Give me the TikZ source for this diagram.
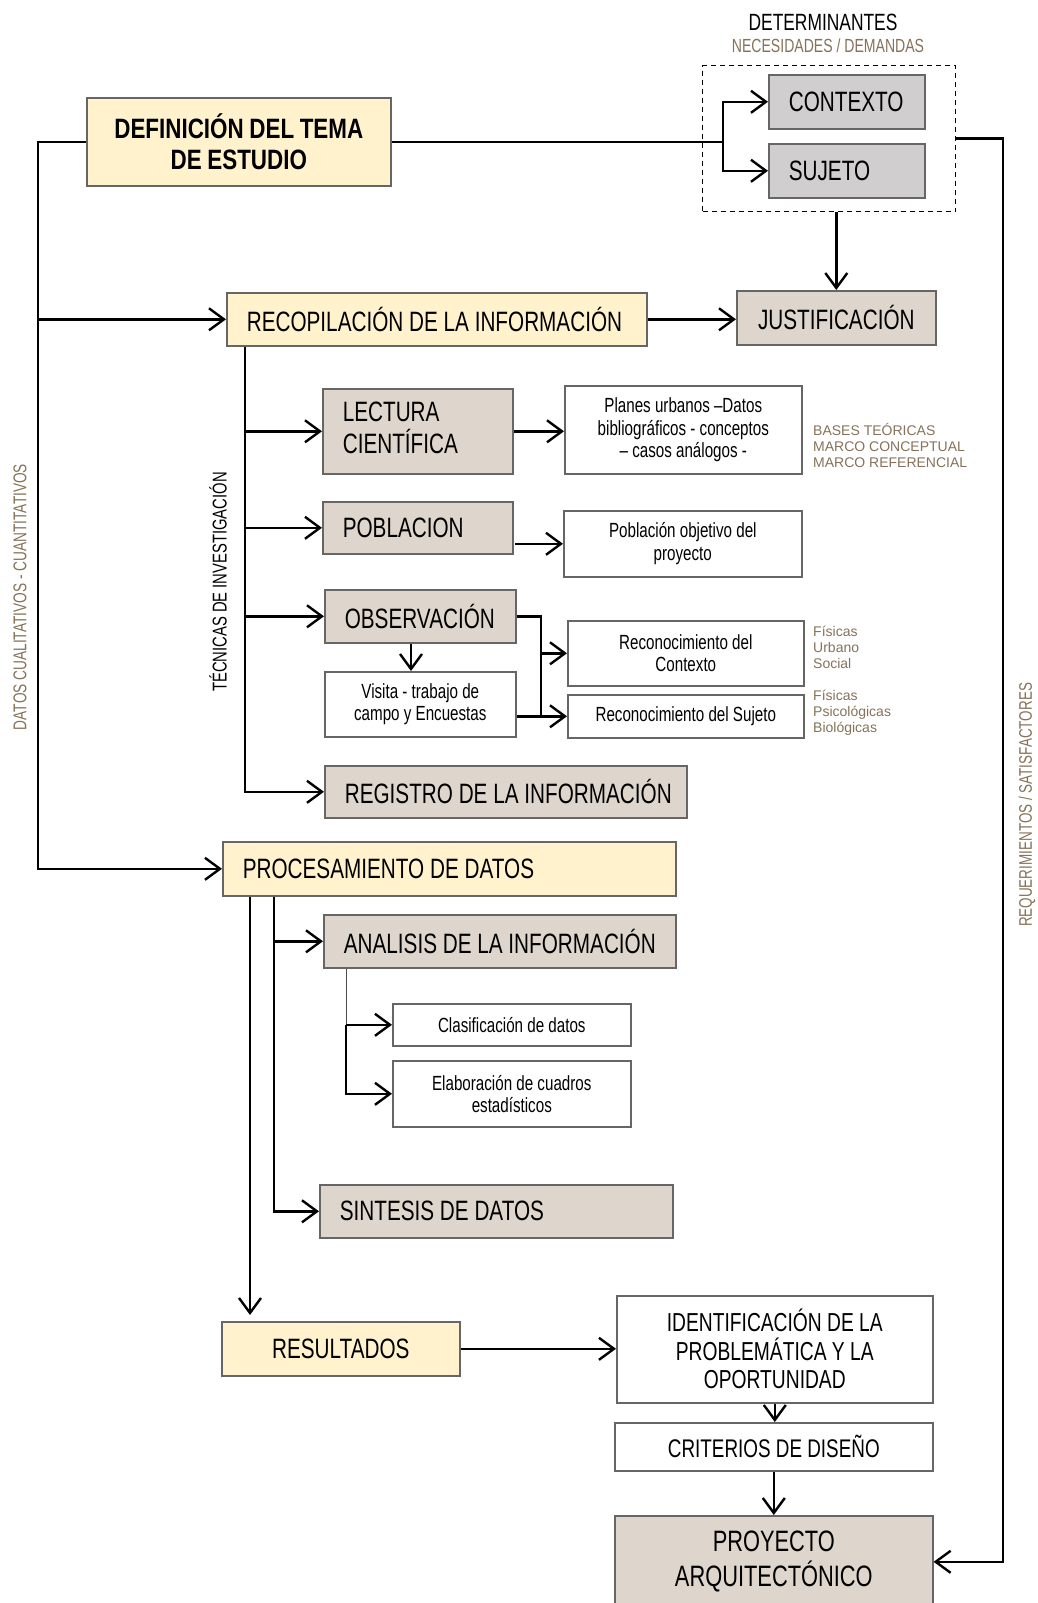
\documentclass[tikz,border=0pt]{standalone}
\usepackage{fontspec}
\setmainfont{Liberation Sans}[FakeStretch=0.74]
\newfontfamily\condbold{Liberation Sans}[FakeStretch=0.8, WordSpace=0.9]
\newfontfamily\widefont{Liberation Sans}
\usetikzlibrary{arrows.meta,calc}
\definecolor{ylw}{HTML}{FFF2CC}
\definecolor{gry}{HTML}{D0CECE}
\definecolor{bge}{HTML}{DED6CC}
\definecolor{bdr}{HTML}{666666}
\definecolor{gold}{HTML}{857258}
\newcommand\lbx[2]{\makebox[#1][l]{#2}}
\newcommand\twol[2]{\begin{tabular}[c]{@{}l@{}}#1\\[-2pt]#2\end{tabular}}
\tikzset{
  box/.style={draw=bdr, line width=1.6pt, inner ysep=0pt, anchor=north west},
  ybox/.style={box, fill=ylw},
  gbox/.style={box, fill=gry},
  bbox/.style={box, fill=bge},
  wbox/.style={box, fill=white},
  lft/.style={inner xsep=20pt},
  ctr/.style={align=center, inner xsep=0pt},
  big/.style={font=\fontsize{28}{31}\selectfont},
  small/.style={font=\fontsize{20.5}{22.5}\selectfont},
  goldtxt/.style={text=gold, font=\widefont\fontsize{14}{16}\selectfont, align=left, anchor=west, inner sep=0pt},
  conn/.style={line width=2.4pt, black},
  arr/.style={conn, -{Straight Barb[length=15pt,width=22pt]}},
  thinln/.style={line width=1pt, black!70},
}
\begin{document}
\begin{tikzpicture}[x=1pt,y=-1pt]
\useasboundingbox (0,0) rectangle (1038,1603);

% ---- top area
\node[ybox, ctr, minimum width=304pt, minimum height=88pt, font=\condbold\bfseries\fontsize{28}{32}\selectfont] (def) at (86,97) {DEFINICIÓN DEL TEMA\\[-1pt]DE ESTUDIO};
\node[font=\fontsize{23.5}{26}\selectfont, inner sep=0pt] (dett) at (823,22) {DETERMINANTES};
\node[font=\fontsize{19}{21}\selectfont, text=gold, inner sep=0pt] (nec) at (828,46) {NECESIDADES / DEMANDAS};
\node[draw, line width=1.2pt, dash pattern=on 5pt off 4pt, minimum width=253pt, minimum height=146pt, anchor=north west, inner sep=0pt] (det) at (702,65) {};
\node[gbox, lft, big, minimum height=54pt] (ctx) at (768,74) {\lbx{116pt}{CONTEXTO}};
\node[gbox, lft, big, minimum height=54pt] (suj) at (768,143) {\lbx{116pt}{SUJETO}};

\node[ybox, lft, big, minimum height=53pt] (rec) at (226,292) {\lbx{380pt}{RECOPILACIÓN DE LA INFORMACIÓN}};
\node[bbox, ctr, big, minimum width=199pt, minimum height=54pt] (jus) at (736,290) {JUSTIFICACIÓN};

% ---- investigation techniques
\node[rotate=90, font=\fontsize{20}{22}\selectfont, inner sep=0pt] (tec) at (218,582) {TÉCNICAS DE INVESTIGACIÓN};
\node[bbox, lft, big, minimum height=85pt] (lec) at (322,388) {\lbx{150pt}{\twol{LECTURA}{CIENTÍFICA}}};
\node[wbox, ctr, small, minimum width=237pt, minimum height=88pt] (planes) at (564,385) {Planes urbanos –Datos\\bibliográficos - conceptos\\– casos análogos -};
\node[goldtxt] (bases) at (813,445) {BASES TEÓRICAS\\MARCO CONCEPTUAL\\MARCO REFERENCIAL};

\node[bbox, lft, big, minimum height=52pt] (pob) at (322,501) {\lbx{150pt}{POBLACION}};
\node[wbox, ctr, small, minimum width=238pt, minimum height=66pt] (pobobj) at (563,510) {Población objetivo del\\proyecto};

\node[bbox, lft, big, minimum height=53pt] (obs) at (324,589) {\lbx{151pt}{OBSERVACIÓN}};
\node[wbox, ctr, small, minimum width=191pt, minimum height=65pt] (visita) at (324,671) {Visita - trabajo de\\campo y Encuestas};
\node[wbox, ctr, small, minimum width=236pt, minimum height=65pt] (recctx) at (567,620) {Reconocimiento del\\Contexto};
\node[wbox, ctr, small, minimum width=236pt, minimum height=43pt] (recsuj) at (567,694) {Reconocimiento del Sujeto};
\node[goldtxt] (fis1) at (813,647.5) {Físicas\\Urbano\\Social};
\node[goldtxt] (fis2) at (813,713) {Físicas\\Psicológicas\\Biológicas};

\node[bbox, lft, big, minimum height=52pt] (reg) at (324,765) {\lbx{322pt}{REGISTRO DE LA INFORMACIÓN}};

% ---- data processing
\node[ybox, lft, big, minimum height=54pt] (proc) at (222,841) {\lbx{413pt}{PROCESAMIENTO DE DATOS}};
\node[bbox, lft, big, minimum height=53pt] (ana) at (323,914) {\lbx{312pt}{ANALISIS DE LA INFORMACIÓN}};
\node[wbox, ctr, small, minimum width=238pt, minimum height=42pt] (clas) at (392,1003) {Clasificación de datos};
\node[wbox, ctr, small, minimum width=238pt, minimum height=66pt] (elab) at (392,1060) {Elaboración de cuadros\\estadísticos};
\node[bbox, lft, big, minimum height=53pt] (sin) at (319,1184) {\lbx{313pt}{SINTESIS DE DATOS}};

% ---- results
\node[ybox, ctr, big, minimum width=238pt, minimum height=54pt] (res) at (221,1321) {RESULTADOS};
\node[wbox, ctr, font=\fontsize{26}{28.5}\selectfont, minimum width=316pt, minimum height=107pt] (ident) at (616,1295) {IDENTIFICACIÓN DE LA\\PROBLEMÁTICA Y LA\\OPORTUNIDAD};
\node[wbox, ctr, font=\fontsize{25.5}{28}\selectfont, minimum width=318pt, minimum height=48pt] (crit) at (614,1422) {CRITERIOS DE DISEÑO};
\node[bbox, ctr, font=\fontsize{29.5}{35}\selectfont, minimum width=318pt, minimum height=92pt] (proy) at (614,1515) {PROYECTO\\ARQUITECTÓNICO};

% ---- side labels
\node[rotate=90, text=gold, font=\fontsize{18.5}{20}\selectfont, inner sep=0pt] (dcq) at (20,597) {DATOS CUALITATIVOS - CUANTITATIVOS};
\node[rotate=90, text=gold, font=\fontsize{18.2}{20}\selectfont, inner sep=0pt] (reqs) at (1027,805) {REQUERIMIENTOS / SATISFACTORES};

% ---- connectors
\coordinate (Lx) at (38,0);
\draw[arr] (def.west) -- (Lx |- def.west) -- (Lx |- proc.west) -- (proc.west);
\draw[arr] (Lx |- rec.west) -- (rec.west);

\coordinate (Bx) at (723,0);
\draw[conn] (def.east) -- (Bx |- def.east);
\draw[arr] (Bx |- def.east) |- (ctx.west);
\draw[arr] (Bx |- def.east) |- (suj.west);
\draw[arr] (jus.north |- det.south) -- (jus.north);

\coordinate (Rx) at (1003,0);
\draw[arr] (det.east) -- (Rx |- det.east) -- (Rx |- proy.east) -- (proy.east);

\draw[arr] (rec.east) -- (rec.east -| jus.west);

\coordinate (Tx) at (245,0);
\draw[arr] (Tx |- rec.south) |- (reg.west);
\draw[arr] (Tx |- lec.west) -- (lec.west);
\draw[arr] (Tx |- pob.west) -- (pob.west);
\draw[arr] (Tx |- obs.west) -- (obs.west);

\draw[arr] (lec.east) -- (lec.east -| planes.west);
\coordinate (Px) at (515,0);
\draw[arr] (Px |- pobobj.west) -- (pobobj.west);

\coordinate (Ox) at (541,0);
\draw[conn] (obs.east) -| (Ox |- recsuj.west);
\draw[arr] (Ox |- recctx.west) -- (recctx.west);
\draw[arr] (visita.east |- recsuj.west) -- (recsuj.west);
\coordinate (Vx) at (411,0);
\draw[arr] (Vx |- obs.south) -- (Vx |- visita.north);

\coordinate (P1) at (250,0);
\coordinate (P2) at (274,0);
\draw[arr] (P1 |- proc.south) -- ($(P1 |- res.north)+(0,-6)$);
\draw[arr] (P2 |- proc.south) |- (sin.west);
\draw[arr] (P2 |- ana.west) -- (ana.west);

\coordinate (Ax) at (346,0);
\draw[thinln] (Ax |- ana.south) -- (Ax |- clas.west);
\draw[arr] (Ax |- clas.west) |- (elab.west);
\draw[arr] (Ax |- clas.west) -- (clas.west);

\draw[arr] (res.east) -- (res.east -| ident.west);
\draw[arr] (ident.south) -- (ident.south |- crit.north);
\draw[arr] (crit.south) -- (crit.south |- proy.north);
\end{tikzpicture}
\end{document}
